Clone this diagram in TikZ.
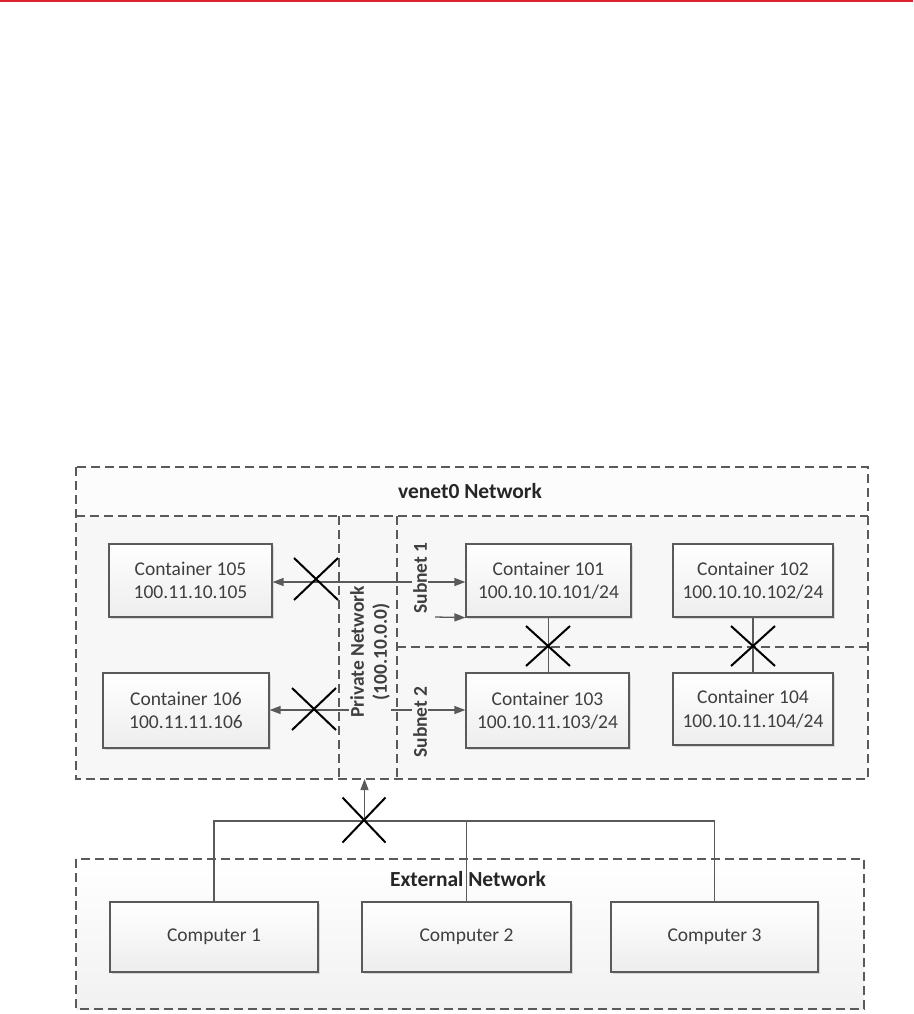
\documentclass[tikz,border=0pt]{standalone}
\usepackage{fontspec}
\setmainfont{Carlito}
\usetikzlibrary{shapes.misc,arrows.meta,shadows}
\definecolor{edge}{HTML}{5A5A5A}
\definecolor{txt}{HTML}{3F3F3F}
\definecolor{topred}{HTML}{D9232E}
\begin{document}
\begin{tikzpicture}[x=1pt,y=-1pt,
  box/.style={draw=edge, line width=1.2pt, top color=white, bottom color=gray!14,
    text=txt, font=\fontsize{19.5}{23.5}\selectfont, align=center, inner sep=0pt,
    drop shadow={shadow xshift=1.5pt, shadow yshift=-1.5pt, opacity=0.25, fill=gray}},
  dsh/.style={draw=edge, line width=1.1pt, dash pattern=on 9pt off 5pt},
  conn/.style={draw=edge, line width=1.3pt},
  arr/.style={draw=edge, line width=1.3pt, -{Triangle[length=11pt,width=8pt]}},
  xm/.style={cross out, draw=black, line width=2pt, minimum width=42pt, minimum height=40pt, inner sep=0pt},
  ttl/.style={font=\bfseries\fontsize{21.5}{25}\selectfont, text=black!85},
  lbl/.style={font=\bfseries\fontsize{19.5}{23}\selectfont, text=txt, align=center, fill=gray!6, inner sep=1pt},
  area/.style={inner sep=0pt, outer sep=0pt}
]
\useasboundingbox (0,0) rectangle (913,1014);
\fill[topred] (0,0) rectangle (913,1.8);

% venet0 region
\fill[gray!2] (76,467) rectangle (868,516);
\fill[gray!6] (76,516) rectangle (868,779);
\draw[dsh] (76,467) rectangle (868,779);
\draw[dsh] (76,516) -- (868,516);
\draw[dsh] (339,516) -- (339,779);
\draw[dsh] (397,516) -- (397,779);
\draw[dsh] (397,647) -- (868,647);
\node[area, minimum width=58pt, minimum height=263pt] (priv) at (368,647.5) {};
\node[ttl] (venet) at (470,491) {venet0 Network};

% External region
\shade[top color=white, bottom color=gray!11] (76,859) rectangle (864,1009);
\draw[dsh] (76,859) rectangle (864,1009);
\node[ttl] (ext) at (468,879) {External Network};

% containers
\node[box, minimum width=163pt, minimum height=73pt] (c105) at (190.5,580.5) {Container 105\\100.11.10.105};
\node[box, minimum width=165pt, minimum height=73pt] (c101) at (548.5,580.5) {Container 101\\100.10.10.101/24};
\node[box, minimum width=160pt, minimum height=73pt] (c102) at (753,580.5) {Container 102\\100.10.10.102/24};
\node[box, minimum width=166pt, minimum height=75pt] (c106) at (186,710.5) {Container 106\\100.11.11.106};
\node[box, minimum width=163pt, minimum height=75pt] (c103) at (547.5,710.5) {Container 103\\100.10.11.103/24};
\node[box, minimum width=160pt, minimum height=72pt] (c104) at (753,709) {Container 104\\100.10.11.104/24};

% computers
\node[box, minimum width=208pt, minimum height=70pt] (comp1) at (214,937) {Computer 1};
\node[box, minimum width=209pt, minimum height=70pt] (comp2) at (466.5,937) {Computer 2};
\node[box, minimum width=207pt, minimum height=70pt] (comp3) at (714.5,937) {Computer 3};

% arrows from private network
\coordinate (p1) at (370,582);
\coordinate (p2) at (370,710);
\coordinate (a2) at (435,617);
\draw[arr] (p1) -- (p1 -| c105.east);
\draw[arr] (p1) -- (p1 -| c101.west);
\draw[arr] (a2) -- (c101.south west);
\draw[arr] (p2) -- (p2 -| c106.east);
\draw[arr] (p2) -- (p2 -| c103.west);

% labels
\node[lbl, rotate=90] (privlbl) at (370,652) {Private Network\\(100.10.0.0)};
\node[lbl, rotate=90] (sub1) at (420,578) {Subnet 1};
\node[lbl, rotate=90] (sub2) at (420,722) {Subnet 2};

% vertical links between subnets
\draw[conn] (c101.south |- c101.south) -- (c101.south |- c103.north);
\draw[conn] (c102.south) -- (c102.south |- c104.north);

% external bus
\coordinate (bus) at (364.5,821);
\coordinate (busL) at (comp1.north |- bus);
\coordinate (busR) at (comp3.north |- bus);
\draw[conn] (comp1.north) -- (busL) -- (busR) -- (comp3.north);
\draw[conn] (comp2.north) -- (comp2.north |- bus);
\draw[arr] (bus) -- (bus |- priv.south);

% crosses
\node[xm] (x105) at (316,579) {};
\node[xm] (x106) at (314,709) {};
\node[xm, minimum height=38pt] (x13) at (548,646) {};
\node[xm, minimum height=38pt] (x24) at (753,646) {};
\node[xm, minimum width=41pt, minimum height=43pt] (xbus) at (364,820) {};
\end{tikzpicture}
\end{document}
